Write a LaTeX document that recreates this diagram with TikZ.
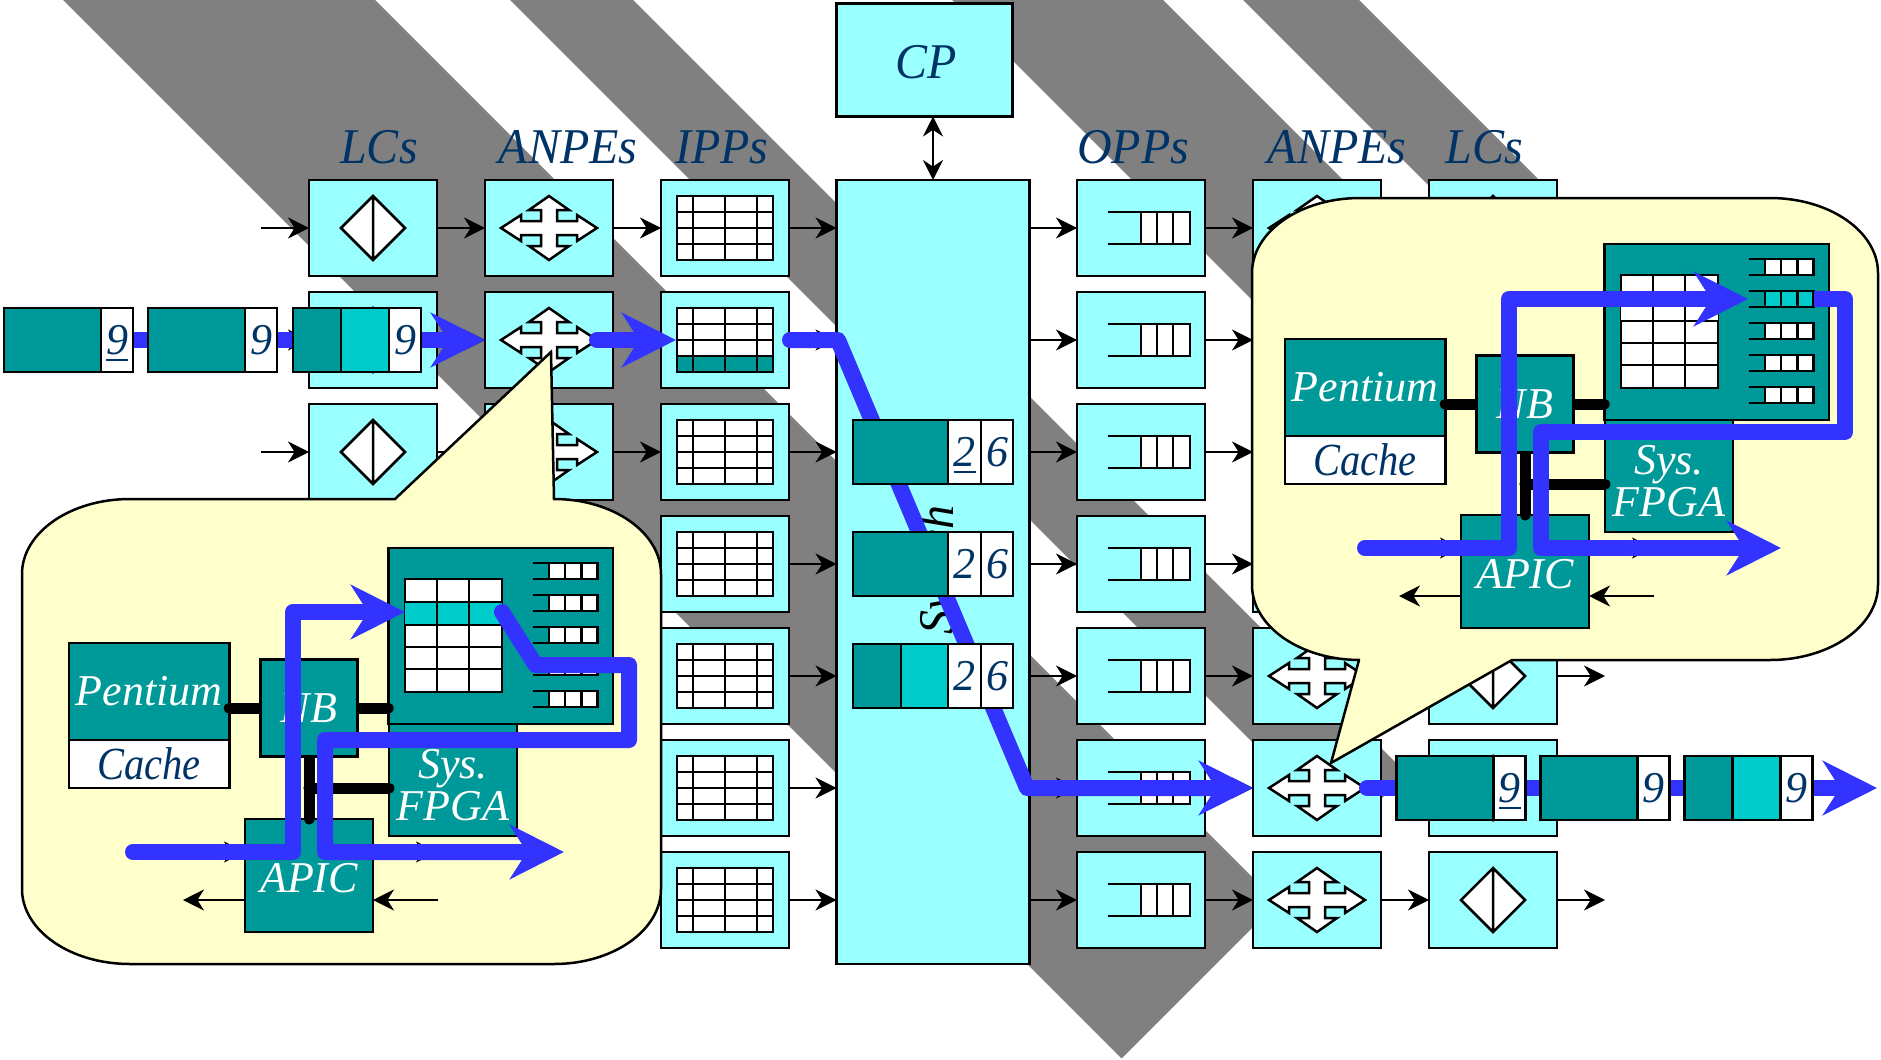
\documentclass[tikz,border=0pt]{standalone}
\usepackage{fontspec}
\setmainfont{Liberation Serif}
\newfontfamily\narrowserif{Liberation Serif}[FakeStretch=0.96]
\newfontfamily\cacheserif{Liberation Serif}[FakeStretch=0.88]
\newcommand{\numline}[1]{#1\llap{\rule[-3pt]{11pt}{0.8pt}}}
\definecolor{unitcyan}{RGB}{153,255,255}
\definecolor{hostteal}{RGB}{0,153,153}
\definecolor{hotteal}{RGB}{0,204,204}
\definecolor{inkblue}{RGB}{0,51,102}
\definecolor{flowblue}{RGB}{51,51,255}
\definecolor{notecream}{RGB}{255,255,204}
\definecolor{bandgray}{RGB}{128,128,128}
\usetikzlibrary{arrows.meta,positioning}
\tikzset{
    box/.style={rectangle, draw=black, line width=1.25pt, inner sep=0pt, outer sep=0pt},
    unitbox/.style={box, fill=unitcyan, minimum width=64pt, minimum height=48pt},
    icon/.style={draw=black, fill=white, line width=1.25pt},
    bigtext/.style={font=\narrowserif\fontsize{25}{25}\selectfont\itshape, text=inkblue},
    smalltext/.style={font=\fontsize{22}{22}\selectfont\itshape},
    columnlabel/.style={bigtext, anchor=base, inner sep=0pt},
    slab/.style={box, smalltext, fill=hostteal, minimum height=32pt},
    hotslab/.style={slab, fill=hotteal},
    numcell/.style={box, smalltext, fill=white, text=inkblue, minimum height=32pt, minimum width=16pt, text height=14.8pt, text depth=0pt},
    hostbox/.style={box, smalltext, fill=hostteal, text=white},
    arrow/.style={-{Stealth[length=10.5pt, width=10.5pt, inset=3.3pt]}, line width=1.1pt},
    twoway/.style={{Stealth[length=10pt, width=10pt, inset=3.3pt]}-{Stealth[length=10pt, width=10pt, inset=3.3pt]}, line width=1.1pt},
    flow/.style={-{Stealth[length=27pt, width=27pt, inset=8.5pt]}, draw=flowblue, line width=8pt, line join=round, line cap=round},
    bus/.style={draw=black, line width=5.5pt, line cap=round},
    callout/.style={draw=black, fill=notecream, line width=1.25pt},
    lcicon/.pic={
        \draw[icon] (-32,0) -- (0,-32) -- (32,0) -- (0,32) -- cycle (0,-32) -- (0,32);
    },
    anpeicon/.pic={
        \draw[icon] (0,-32) -- (20,-18) -- (8,-18) -- (8,-7) -- (28,-7) -- (28,-13) -- (48,0) -- (28,13) -- (28,7) -- (8,7) -- (8,18) -- (20,18)
            -- (0,32) -- (-20,18) -- (-8,18) -- (-8,7) -- (-28,7) -- (-28,13) -- (-48,0) -- (-28,-13) -- (-28,-7) -- (-8,-7) -- (-8,-18) -- (-20,-18) -- cycle;
    },
    ippicon/.pic={
        \draw[icon] (-48,-32) rectangle (48,32);
        \foreach \vx in {-32,0,32} \draw[line width=1.25pt] (\vx,-32) -- (\vx,32);
        \foreach \hy in {-16,0,16} \draw[line width=1.25pt] (-48,\hy) -- (48,\hy);
    },
    oppicon/.pic={
        \fill[white] (0,-16) rectangle (49,16);
        \draw[line width=1.25pt] (-33,-16) -- (49,-16) -- (49,16) -- (-33,16);
        \foreach \vx in {0,16,32} \draw[line width=1.25pt] (\vx,-16) -- (\vx,16);
    },
    pics/hostcard/.style 2 args={code={
        % Board with its table and queues
        \node[hostbox, minimum width=64pt, minimum height=56pt] (-fpga) at (453,780) {};
        \node[hostbox, minimum width=112.25pt, minimum height=88pt] (-board) at (500.5,636) {};
        \draw[icon] (405,579) rectangle (502,692);
        \fill[#1] (405,602) rectangle (502,625);
        \foreach \vx in {437,469} \draw[line width=1.25pt] (\vx,579) -- (\vx,692);
        \foreach \hy in {602,625,647,669} \draw[line width=1.25pt] (405,\hy) -- (502,\hy);
        \foreach \qy/\qfill in {563/white,595/#2,627/white,659/white,691/white} {
            \fill[\qfill] (549,\qy) rectangle (597.5,\qy+16);
            \draw[line width=1.25pt] (532.5,\qy) -- (597.5,\qy) -- (597.5,\qy+16) -- (532.5,\qy+16);
            \foreach \vx in {549,565,581.5} \draw[line width=1.25pt] (\vx,\qy) -- (\vx,\qy+16);
        }
        \coordinate (-row) at (405,612);
        \coordinate (-queue) at (532,603);
        % Processor and cache
        \node[hostbox, minimum width=80.25pt, minimum height=48.5pt] (-pentium) at (149,691.5) {Pentium};
        \node[box, font=\cacheserif\fontsize{23}{23}\selectfont\itshape, fill=white, text=inkblue, minimum width=80.25pt, minimum height=24pt, below=0pt of -pentium] (-cache) {Cache};
        \node[hostbox, minimum width=64pt, minimum height=56.5pt] (-apic) at (309,875.5) {};
        \node[smalltext, text=white, inner sep=0pt, anchor=base] (-apictext) at (309,892) {APIC};
        % Buses
        \coordinate (-mid) at (309,708);
        \coordinate (-tap) at (309,788);
        \draw[bus] (-pentium.east |- -mid) -- (-board.west |- -mid);
        \draw[bus] (-mid) -- (-mid |- -apic.north);
        \draw[bus] (-tap) -- (-tap -| -fpga.west);
        \node[hostbox, minimum width=48.5pt, minimum height=48.5pt] (-nb) at (-mid) {NB};
        \node[smalltext, text=white, inner sep=0pt, anchor=base] (-sys) at (453,778) {Sys.};
        \node[smalltext, text=white, inner sep=0pt, anchor=base] (-fpgatext) at (453,820) {FPGA};
        % Arrows at the APIC
        \coordinate (-ina) at (183,852);
        \coordinate (-outa) at (437,852);
        \coordinate (-outb) at (183,900);
        \coordinate (-inb) at (438,900);
        \draw[arrow] (-ina) -- (-ina -| -apic.west);
        \draw[arrow] (-outa -| -apic.east) -- (-outa);
        \draw[arrow] (-outb -| -apic.west) -- (-outb);
        \draw[arrow] (-inb) -- (-inb -| -apic.east);
    }}
}

\begin{document}
\begin{tikzpicture}[x=0.5pt, y=-0.5pt]
\useasboundingbox (0,0) rectangle (1881,1060);

% Gray bands
\foreach \cl/\cr in {63/375, 510/633, 952/1163, 1243/1359}
    \fill[bandgray] (\cl,0) -- (\cr,0) -- ({(2180+\cr)/2},{(2180-\cr)/2}) -- ({(2180+\cl)/2},{(2180-\cl)/2}) -- cycle;

% Switch and CP
\node[box, fill=unitcyan, minimum width=96.5pt, minimum height=392pt] (switch) at (933,572) {};
\node[bigtext, text=black, rotate=90, anchor=base, inner sep=0pt] (switchtext) at (953,570) {Switch};
\node[box, fill=unitcyan, minimum width=88pt, minimum height=56.5pt] (cp) at (924.5,60) {};
\node[columnlabel] (cptext) at (926,78) {CP};
\draw[twoway] (cp.south -| switch.north) -- (switch.north);

% Column labels
\node[columnlabel] (lclabel) at (379,163) {LCs};
\node[columnlabel] (anpelabel) at (568,163) {ANPEs};
\node[columnlabel] (ipplabel) at (722,163) {IPPs};
\node[columnlabel] (opplabel) at (1133,163) {OPPs};
\node[columnlabel] (anpeoutlabel) at (1337,163) {ANPEs};
\node[columnlabel] (lcoutlabel) at (1484,163) {LCs};

% Units of each row
\foreach \r/\rowy in {1/228, 2/340, 3/452, 4/564, 5/676, 6/788, 7/900} {
    \node[unitbox] (lc\r) at (373,\rowy) {};
    \node[unitbox, right=24pt of lc\r] (anpe\r) {};
    \node[unitbox, right=24pt of anpe\r] (ipp\r) {};
    \node[unitbox] (opp\r) at (1141,\rowy) {};
    \node[unitbox, right=24pt of opp\r] (anpeout\r) {};
    \node[unitbox, right=24pt of anpeout\r] (lcout\r) {};
    \pic at (lc\r) {lcicon};
    \pic at (anpe\r) {anpeicon};
    \pic at (ipp\r) {ippicon};
    \pic at (opp\r) {oppicon};
    \pic at (anpeout\r) {anpeicon};
    \pic at (lcout\r) {lcicon};
    \coordinate (in\r) at (261,\rowy);
    \coordinate (out\r) at (1605,\rowy);
    \draw[arrow] (in\r) -- (lc\r);
    \draw[arrow] (lc\r) -- (anpe\r);
    \draw[arrow] (anpe\r) -- (ipp\r);
    \draw[arrow] (ipp\r) -- (ipp\r -| switch.west);
    \draw[arrow] (opp\r -| switch.east) -- (opp\r);
    \draw[arrow] (opp\r) -- (anpeout\r);
    \draw[arrow] (anpeout\r) -- (lcout\r);
    \draw[arrow] (lcout\r) -- (out\r);
}

% Highlighted table row
\fill[hostteal] (677,356) rectangle (773,372);
\foreach \vx in {693,725,757} \draw[line width=1.25pt] (\vx,356) -- (\vx,372);
\draw[line width=1.25pt] (677,356) rectangle (773,372);

% Blue route
\coordinate (flowin) at (60,340);
\coordinate (flowipp) at (597,340);
\coordinate (ipptable) at (676,340);
\coordinate (flowsw) at (790,340);
\coordinate (flowout) at (1367,788);
\coordinate (flowexit) at (1877,788);
\draw[flow] (flowin) -- (anpe2.west);
\draw[flow] (flowipp) -- (ipptable);
\draw[flow] (flowsw) -- (838,340) -- (1027,788) -- (anpeout6.west);
\draw[flow] (flowout) -- (flowexit);

% Packets coming in
\node[slab, minimum width=48.5pt] (pkaa) at (52.5,340) {};
\node[numcell, right=0pt of pkaa] (pkan) {\numline{9}};
\node[slab, minimum width=48.5pt, right=7.5pt of pkan] (pkba) {};
\node[numcell, right=0pt of pkba] (pkbn) {9};
\node[slab, minimum width=24pt, right=8pt of pkbn] (pkca) {};
\node[hotslab, minimum width=24pt, right=0pt of pkca] (pkcb) {};
\node[numcell, right=0pt of pkcb] (pkcn) {9};

% Packets in the switch
\node[slab, minimum width=47.5pt] (swaa) at (900.5,452) {};
\node[numcell, minimum width=16.5pt, right=0pt of swaa] (swan) {\numline{2}};
\node[numcell, right=0pt of swan] (swam) {6};
\node[slab, minimum width=47.5pt] (swba) at (900.5,564) {};
\node[numcell, minimum width=16.5pt, right=0pt of swba] (swbn) {2};
\node[numcell, right=0pt of swbn] (swbm) {6};
\node[slab, minimum width=24pt] (swca) at (877,676) {};
\node[hotslab, minimum width=23.5pt, right=0pt of swca] (swcb) {};
\node[numcell, minimum width=16.5pt, right=0pt of swcb] (swcn) {2};
\node[numcell, right=0pt of swcn] (swcm) {6};

% Packets going out
\node[slab, minimum width=48.5pt] (pkda) at (1445,788) {};
\node[numcell, right=0pt of pkda] (pkdn) {\numline{9}};
\node[slab, minimum width=48.5pt, right=7.5pt of pkdn] (pkea) {};
\node[numcell, right=0pt of pkea] (pken) {9};
\node[slab, minimum width=24pt, right=7.5pt of pken] (pkfa) {};
\node[hotslab, minimum width=24pt, right=0pt of pkfa] (pkfb) {};
\node[numcell, right=0pt of pkfb] (pkfn) {9};

% Left callout
\draw[callout] (130,499) -- (395,499) -- (551,352) -- (554,499)
    arc[start angle=-90, end angle=0, x radius=107, y radius=75] -- (661,889)
    arc[start angle=0, end angle=90, x radius=107, y radius=75] -- (130,964)
    arc[start angle=90, end angle=180, x radius=108, y radius=75] -- (22,574)
    arc[start angle=180, end angle=270, x radius=108, y radius=75] -- cycle;
\pic (lhost) at (0,0) {hostcard={hotteal}{white}};
\coordinate (lstart) at (133,852);
\coordinate (lback) at (502,612);
\coordinate (lend) at (564,852);
\draw[flow] (lstart) -- (293,852) -- (293,612) -- (lhost-row);
\draw[flow] (lback) -- (535.6,665) -- (629,665) -- (629,740) -- (325,740) -- (325,852) -- (lend);

% Right callout
\draw[callout] (1360,198) -- (1770,198)
    arc[start angle=-90, end angle=0, x radius=108, y radius=75] -- (1878,585)
    arc[start angle=0, end angle=90, x radius=108, y radius=75] -- (1512,660) -- (1331,763) -- (1359,660) -- (1360,660)
    arc[start angle=90, end angle=180, x radius=108, y radius=75] -- (1252,273)
    arc[start angle=180, end angle=270, x radius=108, y radius=75] -- cycle;
\pic (rhost) at (1216,-304) {hostcard={white}{hotteal}};
\coordinate (rstart) at (1365,548);
\coordinate (rback) at (1814,299);
\coordinate (rend) at (1781,548);
\draw[flow] (rstart) -- (1509,548) -- (1509,299) -- (rhost-queue);
\draw[flow, line cap=butt] (rback) -- (1845,299) -- (1845,432) -- (1541,432) -- (1541,548) -- (rend);

\end{tikzpicture}
\end{document}
